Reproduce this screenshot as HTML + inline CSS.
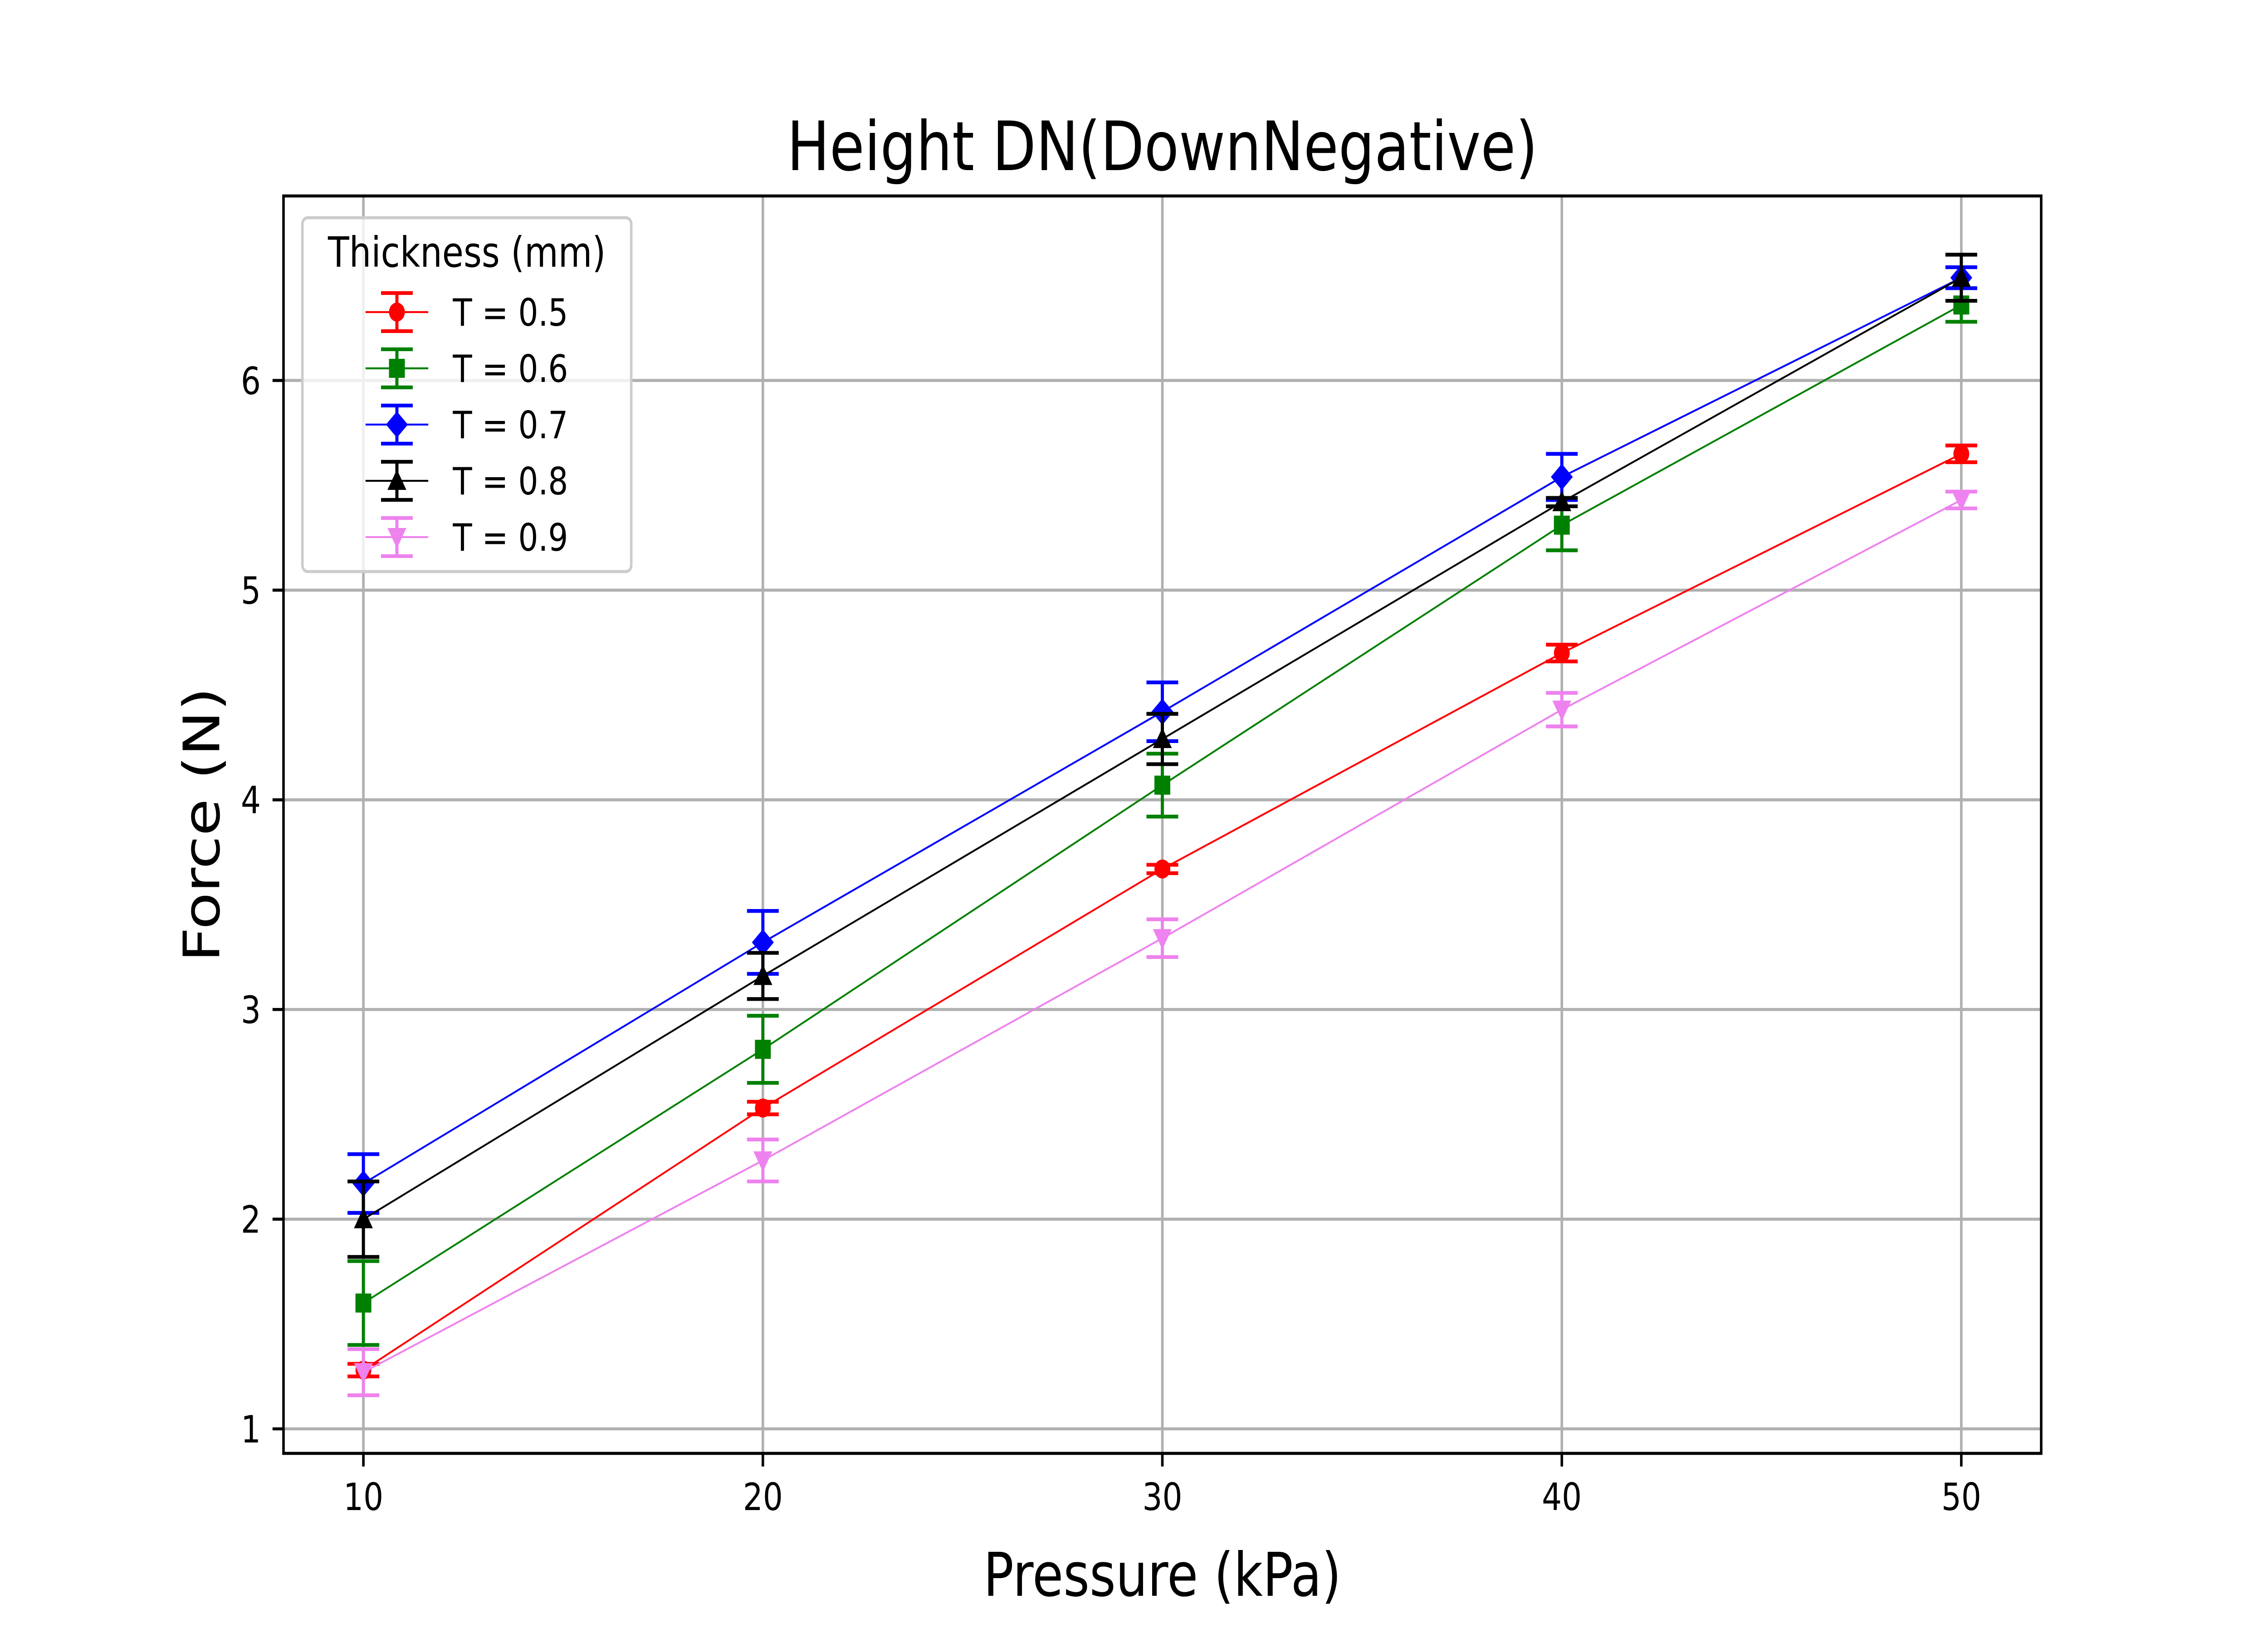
<!DOCTYPE html>
<html><head><meta charset="utf-8"><style>
html,body{margin:0;padding:0;background:#fff;overflow:hidden;width:100vw;height:100vh}
svg{display:block;width:100vw;height:100vh}
svg text{font-family:"DejaVu Sans","Liberation Sans",sans-serif}
</style></head><body>
<svg id="chart" viewBox="0 0 6000 3600" preserveAspectRatio="none" xmlns="http://www.w3.org/2000/svg">
<rect width="6000" height="3600" fill="#fff"/>
<g id="grid"></g>
<g id="series"></g>
<rect x="750" y="432" width="4650" height="2772" fill="none" stroke="#000" stroke-width="6.7"/>
<g id="ticks"></g>
<text x="3075" y="375" font-size="150" text-anchor="middle">Height DN(DownNegative)</text>
<text x="3075" y="3518" font-size="133" text-anchor="middle">Pressure (kPa)</text>
<text x="0" y="0" font-size="133" text-anchor="middle" transform="translate(580,1818) rotate(-90)">Force (N)</text>
<g id="legend"></g>
</svg>
<script>
const categories = [10, 20, 30, 40, 50];
const xTicks = [10, 20, 30, 40, 50];
const yTicks = [1, 2, 3, 4, 5, 6];
const seriesNames = ["T = 0.5", "T = 0.6", "T = 0.7", "T = 0.8", "T = 0.9"];
const t05 = [1.28, 2.53, 3.67, 4.70, 5.65];
const t05err = [0.03, 0.03, 0.02, 0.04, 0.04];
const t06 = [1.60, 2.81, 4.07, 5.31, 6.36];
const t06err = [0.20, 0.16, 0.15, 0.12, 0.08];
const t07 = [2.17, 3.32, 4.42, 5.54, 6.49];
const t07err = [0.14, 0.15, 0.14, 0.11, 0.05];
const t08 = [2.00, 3.16, 4.29, 5.42, 6.49];
const t08err = [0.18, 0.11, 0.12, 0.02, 0.11];
const t09 = [1.27, 2.28, 3.34, 4.43, 5.43];
const t09err = [0.11, 0.10, 0.09, 0.08, 0.04];

const NS = "http://www.w3.org/2000/svg";
const L = 750, R = 5400, T = 432, B = 3204;
const xMin = 8, xMax = 52, yMin = 0.883, yMax = 6.88;
function xs(v){ return L + (v - xMin) / (xMax - xMin) * (R - L); }
function ys(v){ return B - (v - yMin) / (yMax - yMin) * (B - T); }
function mk(tag, attrs, parent){ const e = document.createElementNS(NS, tag); for (const k in attrs) e.setAttribute(k, attrs[k]); parent.appendChild(e); return e; }

const grid = document.getElementById('grid'), ticks = document.getElementById('ticks');
xTicks.forEach(v => {
  const gl = mk('line', {x1: xs(v), x2: xs(v), y1: T, y2: B, stroke: '#b0b0b0', 'stroke-width': 6.7}, grid);
  
  
  const tk = mk('line', {x1: xs(v), x2: xs(v), y1: B, y2: B + 29, stroke: '#000', 'stroke-width': 6.7}, ticks);
  
  
  const tl = mk('text', {x: xs(v), y: B + 125, 'font-size': 83, 'text-anchor': 'middle'}, ticks);
  tl.textContent = v;
  
  
});
yTicks.forEach(v => {
  const gl = mk('line', {x1: L, x2: R, y1: ys(v), y2: ys(v), stroke: '#b0b0b0', 'stroke-width': 6.7}, grid);
  
  
  const tk = mk('line', {x1: L - 29, x2: L, y1: ys(v), y2: ys(v), stroke: '#000', 'stroke-width': 6.7}, ticks);
  
  
  const tl = mk('text', {x: L - 60, y: ys(v) + 30, 'font-size': 83, 'text-anchor': 'end'}, ticks);
  tl.textContent = v;
  
  
});

const colors = ['#ff0000', '#008000', '#0000ff', '#000000', '#ee82ee'];
const markers = ['circle', 'square', 'diamond', 'triangle-up', 'triangle-down'];
const values = [t05, t06, t07, t08, t09];
const errs = [t05err, t06err, t07err, t08err, t09err];

function marker(type, x, y, c, parent){
  const s = 21;
  let e;
  if (type === 'circle') e = mk('circle', {cx: x, cy: y, r: s, fill: c}, parent);
  else if (type === 'square') e = mk('rect', {x: x - s, y: y - s, width: 2 * s, height: 2 * s, fill: c}, parent);
  else if (type === 'diamond') e = mk('polygon', {points: `${x},${y - 29} ${x + 29},${y} ${x},${y + 29} ${x - 29},${y}`, fill: c}, parent);
  else if (type === 'triangle-up') e = mk('polygon', {points: `${x},${y - 25} ${x + 25},${y + 20} ${x - 25},${y + 20}`, fill: c}, parent);
  else e = mk('polygon', {points: `${x},${y + 25} ${x + 25},${y - 20} ${x - 25},${y - 20}`, fill: c}, parent);
  return e;
}

const sg = document.getElementById('series');
values.forEach((vals, i) => {
  const g = mk('g', {}, sg);
  
  
  const pl = mk('polyline', {points: categories.map((c, j) => xs(c) + ',' + ys(vals[j])).join(' '), fill: 'none', stroke: colors[i], 'stroke-width': 4.2}, g);
  
  
  categories.forEach((c, j) => {
    const x = xs(c), y1 = ys(vals[j] - errs[i][j]), y2 = ys(vals[j] + errs[i][j]);
    const eb = mk('path', {d: `M${x},${y1}V${y2}M${x - 42},${y1}H${x + 42}M${x - 42},${y2}H${x + 42}`, stroke: colors[i], 'stroke-width': 8.3, fill: 'none'}, g);
    
    
    const m = marker(markers[i], x, ys(vals[j]), colors[i], g);
    
    
  });
});

const lg = document.getElementById('legend');
const box = mk('rect', {x: 800, y: 480, width: 870, height: 780, rx: 14, fill: '#fff', 'fill-opacity': 0.8, stroke: '#cccccc', 'stroke-width': 6.7}, lg);


const lt = mk('text', {x: 1235, y: 588, 'font-size': 92, 'text-anchor': 'middle'}, lg);
lt.textContent = 'Thickness (mm)';


seriesNames.forEach((n, i) => {
  const y = 688 + i * 124;
  const eg = mk('g', {}, lg);
  
  
  mk('line', {x1: 967, x2: 1133, y1: y, y2: y, stroke: colors[i], 'stroke-width': 4.2}, eg);
  mk('path', {d: `M1050,${y - 42}V${y + 42}M1008,${y - 42}H1092M1008,${y + 42}H1092`, stroke: colors[i], 'stroke-width': 8.3, fill: 'none'}, eg);
  marker(markers[i], 1050, y, colors[i], eg);
  const t = mk('text', {x: 1198, y: y + 30, 'font-size': 83}, eg);
  t.textContent = n;
});
</script>
</body></html>
